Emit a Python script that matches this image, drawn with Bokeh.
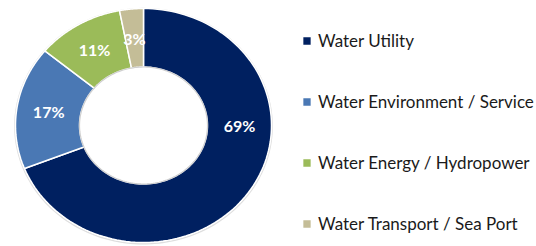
import numpy as np
from bokeh.plotting import figure
from bokeh.models import Range1d, Legend, LegendItem, ColumnDataSource
from bokeh.core.properties import value
from bokeh.embed import file_html
from bokeh.resources import INLINE

# ---- data ----
categories = ["Water Utility", "Water Environment / Service",
              "Water Energy / Hydropower", "Water Transport / Sea Port"]
shares = [69, 17, 11, 3]
pct_labels = ["69%", "17%", "11%", "3%"]
colors = ["#002060", "#4A78B4", "#9BBB59", "#C4BD97"]

# ---- geometry (unit ellipse, x/y scaled by the ranges) ----
W, H = 536, 246
RX, RY = 128.0, 117.0      # px per data unit
CX, CY = 143.0, 125.0      # centre of donut in frame px (from left / from top)
INNER = 0.5
p = figure(width=W, height=H, output_backend="svg", toolbar_location=None,
           x_range=Range1d(-CX / RX, (W - CX) / RX),
           y_range=Range1d(-(H - CY) / RY, CY / RY),
           min_border=0, outline_line_color=None)
p.axis.visible = False
p.grid.visible = False
p.background_fill_color = "white"

vals = np.array(shares, dtype=float)
fr = vals / vals.sum()
ends = np.cumsum(fr)
starts = ends - fr

# subtle shadow rings
tt = np.linspace(0, 2 * np.pi, 200)
p.line(np.cos(tt) * 1.005, np.sin(tt) * 1.005 - 0.006, line_color="#c8c8c8", line_width=1.5, line_alpha=0.6)

renderers = []
for i, cat in enumerate(categories):
    a = np.linspace(starts[i], ends[i], 120) * 2 * np.pi
    t = np.pi / 2 - a
    xs = np.concatenate([np.cos(t), INNER * np.cos(t[::-1])])
    ys = np.concatenate([np.sin(t), INNER * np.sin(t[::-1])])
    r = p.patch(xs, ys, fill_color=colors[i], line_color="white", line_width=1.5)
    renderers.append(r)

p.line(INNER * np.cos(tt) * 1.0, INNER * np.sin(tt), line_color="#bbbbbb", line_width=1.2, line_alpha=0.7)

# labels at mid radius; the large slice's label was moved to the right side
nudge = [-0.095, 0, 0, 0]
mid = (starts + ends) / 2 + np.array(nudge)
tm = np.pi / 2 - mid * 2 * np.pi
rl = (1 + INNER) / 2
src = ColumnDataSource(dict(x=rl * np.cos(tm), y=rl * np.sin(tm), t=pct_labels))
p.text(x="x", y="y", text="t", source=src, text_color="white",
       text_font=value("Lato"), text_font_style="bold", text_font_size="16px",
       text_align="center", text_baseline="middle")

legend = Legend(items=[LegendItem(label=c, renderers=[r]) for c, r in zip(categories, renderers)],
                location=(301, 12), orientation="vertical",
                glyph_width=11, glyph_height=11, label_height=21, label_standoff=6,
                spacing=40, padding=0, margin=0,
                border_line_alpha=0, background_fill_alpha=0,
                label_text_font="Lato", label_text_font_size="17px",
                label_text_color="#1a1a1a")
p.add_layout(legend)

open("out.html", "w").write(file_html(p, INLINE))
